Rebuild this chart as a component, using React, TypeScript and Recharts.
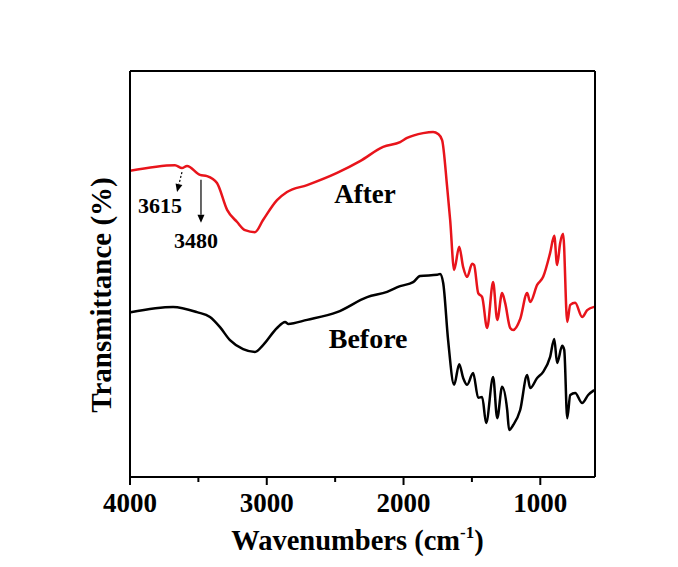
import React from "react";
import {
  LineChart,
  Line,
  XAxis,
  YAxis,
  ReferenceLine,
  ReferenceDot,
} from "recharts";

// FTIR spectra
const afterWn = [
  4000, 3671, 3620, 3583, 3488, 3437, 3364, 3290, 3217, 3159, 3086, 3027, 2925,
  2852, 2705, 2486, 2318, 2149, 2025, 1974, 1857, 1784, 1747, 1718, 1681, 1659,
  1630, 1593, 1564, 1535, 1498, 1484, 1454, 1425, 1389, 1345, 1315, 1279, 1257,
  1220, 1198, 1147, 1096, 1074, 1023, 979, 928, 898, 877, 855, 833, 803, 781,
  745, 694, 657, 606,
];
const afterT = [
  75.4, 76.8, 76.1, 76.6, 74.4, 74.1, 72.4, 65.8, 62.8, 60.8, 60.3, 63.3, 68.2,
  70.2, 71.9, 74.9, 77.8, 81.3, 82.5, 83.5, 84.7, 85.0, 84.5, 83.0, 71.4, 63.3,
  51.0, 56.7, 51.7, 49.3, 52.5, 52.2, 45.3, 44.3, 36.7, 48.0, 38.7, 45.3, 42.9,
  36.7, 36.2, 38.9, 45.3, 43.1, 47.3, 49.3, 55.2, 59.4, 52.2, 57.6, 59.9, 38.2,
  42.4, 42.9, 39.4, 41.1, 41.9,
];

const beforeWn = [
  3995, 3685, 3510, 3415, 3342, 3269, 3173, 3086, 3027, 2925, 2866, 2844, 2705,
  2486, 2266, 2120, 2025, 1930, 1879, 1754, 1733, 1710, 1674, 1630, 1593, 1564,
  1535, 1491, 1454, 1425, 1396, 1345, 1315, 1279, 1242, 1228, 1198, 1147, 1096,
  1074, 1023, 979, 928, 898, 877, 840, 825, 803, 781, 745, 694, 650, 606,
];
const beforeT = [
  40.6, 41.9, 40.6, 39.4, 36.9, 33.7, 31.5, 30.8, 32.5, 36.7, 38.2, 37.7, 38.7,
  40.6, 44.3, 45.6, 47.0, 48.0, 49.5, 49.8, 50.0, 47.8, 33.7, 22.7, 27.8, 24.4,
  22.7, 25.6, 19.5, 19.7, 13.3, 24.6, 14.5, 22.2, 16.5, 11.6, 12.8, 16.5, 25.1,
  21.9, 24.4, 25.9, 29.6, 34.0, 28.1, 32.3, 31.3, 14.5, 20.2, 20.7, 18.2, 20.2,
  21.4,
];

const xTicks = [4000, 3500, 3000, 2500, 2000, 1500, 1000];
const majorTicks = [4000, 3000, 2000, 1000];

const afterData = afterWn.map((wn, i) => ({ wn, t: afterT[i] }));
const beforeData = beforeWn.map((wn, i) => ({ wn, t: beforeT[i] }));

const FONT = "'Liberation Serif', 'Times New Roman', serif";
const RED = "#e8141b";
const AXIS = { stroke: "#000", strokeWidth: 2 };

// tick: short line for minor ticks, longer + label for major
const XTick = (props: any) => {
  const { x, y, payload } = props;
  const major = majorTicks.includes(payload.value);
  return (
    <g>
      <line x1={x} y1={y} x2={x} y2={y + (major ? 8 : 5)} stroke="#000" strokeWidth={2} />
      {major && (
        <text
          x={x}
          y={y + 35}
          textAnchor="middle"
          fontFamily={FONT}
          fontWeight="bold"
          fontSize={27}
          fill="#000"
        >
          {payload.value}
        </text>
      )}
    </g>
  );
};

const XTitle = (props: any) => {
  const { viewBox } = props;
  const cx = viewBox.x + viewBox.width / 2 - 5;
  return (
    <text
      x={cx}
      y={viewBox.y + 73}
      textAnchor="middle"
      fontFamily={FONT}
      fontWeight="bold"
      fontSize={28.5}
      fill="#000"
    >
      Wavenumbers (cm
      <tspan fontSize={17} dy={-12}>-1</tspan>
      <tspan dy={12}>)</tspan>
    </text>
  );
};

const YTitle = (props: any) => {
  const { viewBox } = props;
  const cx = viewBox.x - 28;
  const cy = viewBox.y + viewBox.height / 2 + 21;
  return (
    <text
      x={cx}
      y={cy}
      transform={`rotate(-90 ${cx} ${cy})`}
      textAnchor="middle"
      dominantBaseline="central"
      fontFamily={FONT}
      fontWeight="bold"
      fontSize={29}
      fill="#000"
    >
      Transmittance (%)
    </text>
  );
};

// arrow from the curve down to the label
const arrowShape = (dashed: boolean) => (props: any) => {
  const { x1, y1, x2, y2 } = props;
  if (x1 == null) return null;
  const ang = Math.atan2(y2 - y1, x2 - x1);
  const len = 8;
  const w = 3.5;
  const bx = x2 - len * Math.cos(ang);
  const by = y2 - len * Math.sin(ang);
  const px = -Math.sin(ang) * w;
  const py = Math.cos(ang) * w;
  return (
    <g>
      <line
        x1={x1}
        y1={y1}
        x2={bx}
        y2={by}
        stroke="#000"
        strokeWidth={1.2}
        strokeDasharray={dashed ? "2 2" : undefined}
      />
      <polygon points={`${x2},${y2} ${bx + px},${by + py} ${bx - px},${by - py}`} fill="#000" />
    </g>
  );
};

const textShape = (text: string, size: number) => (props: any) => (
  <text
    x={props.cx}
    y={props.cy}
    textAnchor="middle"
    fontFamily={FONT}
    fontWeight="bold"
    fontSize={size}
    fill="#000"
  >
    {text}
  </text>
);

export default function App() {
  return (
    <div style={{ width: 670, height: 559, background: "#fff" }}>
      <LineChart
        width={670}
        height={559}
        margin={{ top: 62, right: 82, left: 121, bottom: 0 }}
      >
        <XAxis
          xAxisId={0}
          type="number"
          dataKey="wn"
          domain={[600, 4000]}
          reversed
          ticks={xTicks}
          interval={0}
          allowDataOverflow
          height={90}
          tickSize={0}
          tickMargin={0}
          tickLine={false}
          tick={<XTick />}
          axisLine={AXIS}
          label={<XTitle />}
        />
        <XAxis
          xAxisId="top"
          orientation="top"
          type="number"
          dataKey="wn"
          domain={[600, 4000]}
          reversed
          allowDataOverflow
          height={1}
          tick={false}
          tickLine={false}
          axisLine={AXIS}
        />
        <YAxis
          yAxisId={0}
          type="number"
          domain={[0, 100]}
          allowDataOverflow
          width={1}
          tick={false}
          tickLine={false}
          axisLine={AXIS}
          label={<YTitle />}
        />
        <YAxis
          yAxisId="right"
          orientation="right"
          type="number"
          domain={[0, 100]}
          allowDataOverflow
          width={1}
          tick={false}
          tickLine={false}
          axisLine={AXIS}
        />
        <Line
          data={beforeData}
          dataKey="t"
          type="monotone"
          stroke="#000"
          strokeWidth={2.5}
          dot={false}
          isAnimationActive={false}
        />
        <Line
          data={afterData}
          dataKey="t"
          type="monotone"
          stroke={RED}
          strokeWidth={2.5}
          dot={false}
          isAnimationActive={false}
        />
        <ReferenceLine
          segment={[
            { x: 3620, y: 75.1 },
            { x: 3656, y: 70.2 },
          ]}
          shape={arrowShape(true)}
        />
        <ReferenceLine
          segment={[
            { x: 3481, y: 73.2 },
            { x: 3481, y: 62.6 },
          ]}
          shape={arrowShape(false)}
        />
        <ReferenceDot x={3781} y={65.0} r={0} shape={textShape("3615", 22)} />
        <ReferenceDot x={3517} y={56.4} r={0} shape={textShape("3480", 22)} />
        <ReferenceDot x={2281} y={67.5} r={0} shape={textShape("After", 27)} />
        <ReferenceDot x={2259} y={31.8} r={0} shape={textShape("Before", 28)} />
      </LineChart>
    </div>
  );
}
